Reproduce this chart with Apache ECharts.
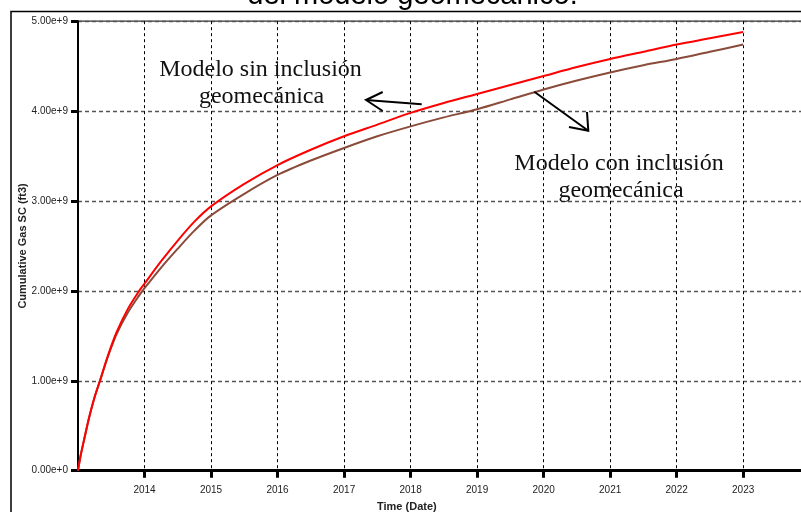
<!DOCTYPE html>
<html>
<head>
<meta charset="utf-8">
<script src="https://cdn.jsdelivr.net/npm/echarts@6/dist/echarts.min.js"></script>
<style>
html,body{margin:0;padding:0;background:#fff;}
#chart{width:801px;height:512px;}
</style>
</head>
<body>
<div id="chart"></div>
<script>
// Time in decimal years
const years = [2013.00, 2013.04, 2013.09, 2013.17, 2013.25, 2013.33, 2013.45, 2013.58, 2013.75, 2013.92,
  2014.0, 2014.25, 2014.5, 2014.75, 2015.0, 2015.5, 2016.0, 2016.5, 2017.0, 2017.5,
  2018.0, 2018.5, 2019.0, 2019.5, 2020.0, 2020.5, 2021.0, 2021.5, 2022.0, 2022.5, 2023.0];
// Cumulative gas (×1e9 ft3)
const sinGeomecanica = [0, 0.17, 0.34, 0.60, 0.82, 1.00, 1.28, 1.54, 1.80, 2.00,
  2.08, 2.33, 2.56, 2.77, 2.94, 3.19, 3.40, 3.57, 3.72, 3.85,
  3.98, 4.09, 4.19, 4.29, 4.39, 4.49, 4.58, 4.66, 4.74, 4.81, 4.88];
const conGeomecanica = [0, 0.17, 0.34, 0.60, 0.82, 1.00, 1.27, 1.52, 1.76, 1.95,
  2.03, 2.26, 2.47, 2.67, 2.84, 3.08, 3.29, 3.45, 3.59, 3.72,
  3.83, 3.93, 4.02, 4.13, 4.24, 4.34, 4.43, 4.51, 4.58, 4.66, 4.74];
const seriesNames = ['Modelo sin inclusión geomecánica', 'Modelo con inclusión geomecánica'];
const xTickYears = [2014, 2015, 2016, 2017, 2018, 2019, 2020, 2021, 2022, 2023];

const chart = echarts.init(document.getElementById('chart'), null, {renderer: 'canvas'});
const pair = (ys) => years.map((x, i) => [x, ys[i]]);

chart.setOption({
  animation: false,
  backgroundColor: '#fff',
  grid: {left: 78, top: 21.2, width: 731.7, height: 449.5, outerBoundsMode: 'none', containLabel: false,
    show: true, borderColor: '#333', borderWidth: 1.2, backgroundColor: 'transparent'},
  xAxis: {
    type: 'value', min: 2013, max: 2024, interval: 1,
    name: 'Time (Date)', nameLocation: 'middle', nameGap: 31, nameMoveOverlap: false,
    nameTextStyle: {fontFamily: 'Liberation Sans', fontSize: 11, fontWeight: 'bold', color: '#222', padding: [0, 74, 0, 0]},
    axisLine: {lineStyle: {color: '#000', width: 3}},
    axisTick: {length: 7, lineStyle: {color: '#000', width: 3}},
    axisLabel: {showMinLabel: false, showMaxLabel: false, margin: 15, fontFamily: 'Liberation Sans', fontSize: 10, color: '#222',
      formatter: v => xTickYears.includes(Math.round(v)) ? String(Math.round(v)) : ''},
    splitLine: {show: true, lineStyle: {color: '#000', width: 1, type: [3, 3]}}
  },
  yAxis: {
    type: 'value', min: 0, max: 5, interval: 1,
    name: 'Cumulative Gas SC (ft3)', nameLocation: 'middle', nameGap: 50, nameRotate: 90, nameMoveOverlap: false,
    nameTextStyle: {fontFamily: 'Liberation Sans', fontSize: 11, fontWeight: 'bold', color: '#222'},
    axisLine: {show: true, lineStyle: {color: '#000', width: 2}},
    axisTick: {show: true, length: 7, lineStyle: {color: '#000', width: 3}},
    axisLabel: {margin: 10, fontFamily: 'Liberation Sans', fontSize: 10, color: '#222',
      formatter: v => (v * 1e9).toExponential(2)},
    splitLine: {show: true, lineStyle: {color: '#555', width: 1.4, type: [4, 3]}}
  },
  series: [
    {name: seriesNames[0], type: 'line', data: pair(sinGeomecanica), showSymbol: false, smooth: 0.3,
      lineStyle: {color: '#ff0000', width: 2}, z: 3},
    {name: seriesNames[1], type: 'line', data: pair(conGeomecanica), showSymbol: false, smooth: 0.3,
      lineStyle: {color: '#8a4b3b', width: 2}, z: 2}
  ],
  graphic: [
    {type: 'rect', shape: {x: 11, y: 11.5, width: 820, height: 520}, style: {fill: 'none', stroke: '#000', lineWidth: 1.5}, z: 10},
    {type: 'text', x: 412.5, y: -4, style: {text: 'del modelo geomecánico.', font: '29px "Liberation Sans"', fill: '#000', align: 'center', verticalAlign: 'middle'}, z: 10},
    {type: 'text', x: 260.5, y: 69.5, style: {text: 'Modelo sin inclusión', font: '24px "Liberation Serif"', fill: '#111', align: 'center', verticalAlign: 'middle'}, z: 10},
    {type: 'text', x: 261.5, y: 96.3, style: {text: 'geomecánica', font: '24px "Liberation Serif"', fill: '#111', align: 'center', verticalAlign: 'middle'}, z: 10},
    {type: 'text', x: 619, y: 163.5, style: {text: 'Modelo con inclusión', font: '24px "Liberation Serif"', fill: '#111', align: 'center', verticalAlign: 'middle'}, z: 10},
    {type: 'text', x: 621, y: 190.8, style: {text: 'geomecánica', font: '24px "Liberation Serif"', fill: '#111', align: 'center', verticalAlign: 'middle'}, z: 10},
    {type: 'line', shape: {x1: 421.7, y1: 104.3, x2: 366, y2: 100}, style: {stroke: '#000', lineWidth: 2}, z: 10},
    {type: 'polyline', shape: {points: [[382.7, 92], [366, 100], [382.7, 111]]}, style: {stroke: '#000', lineWidth: 2, fill: 'none'}, z: 10},
    {type: 'line', shape: {x1: 534.3, y1: 91.7, x2: 588.3, y2: 130.7}, style: {stroke: '#000', lineWidth: 2}, z: 10},
    {type: 'polyline', shape: {points: [[569, 127], [588.3, 130.7], [587, 112]]}, style: {stroke: '#000', lineWidth: 2, fill: 'none'}, z: 10}
  ]
});
</script>
</body>
</html>
